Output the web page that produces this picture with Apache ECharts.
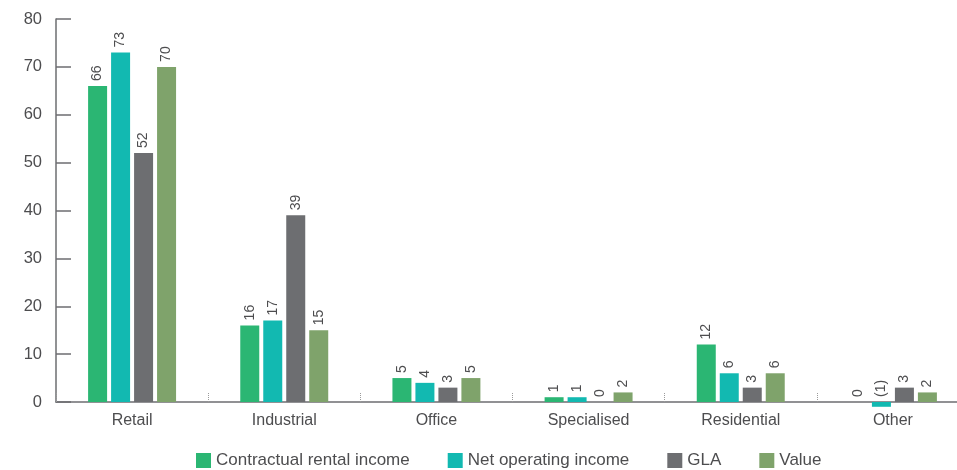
<!DOCTYPE html>
<html>
<head>
<meta charset="utf-8">
<script src="https://cdn.jsdelivr.net/npm/echarts@6/dist/echarts.min.js"></script>
<style>
  html, body { margin: 0; padding: 0; background: #fff; overflow: hidden; }
  /* canvas is a little wider than the window so the last category runs off the edge */
  #chart { width: 969px; height: 470px; }
</style>
</head>
<body>
<div id="chart"></div>
<script>
// Portfolio split by sector (%)
const categories = ['Retail', 'Industrial', 'Office', 'Specialised', 'Residential', 'Other'];
const contractualRentalIncome = [66, 16, 5, 1, 12, 0];
const netOperatingIncome = [73, 17, 4, 1, 6, -1];
const gla = [52, 39, 3, 0, 3, 3];
const value = [70, 15, 5, 2, 6, 2];
const yTicks = [0, 10, 20, 30, 40, 50, 60, 70, 80];

const FONT = '"Liberation Sans", Arial, sans-serif';
const TEXT = '#4d4d4f';

function labelFmt(p) {
  return p.value < 0 ? '(' + Math.abs(p.value) + ')' : String(p.value);
}

function makeSeries(name, data, color) {
  return {
    name: name,
    type: 'bar',
    data: data,
    barWidth: 19,
    barGap: '21%',
    clip: false,
    itemStyle: { color: color },
    label: {
      show: true,
      position: 'top',
      rotate: 90,
      align: 'left',
      verticalAlign: 'middle',
      distance: 5,
      fontFamily: FONT,
      fontSize: 14,
      color: TEXT,
      formatter: labelFmt
    }
  };
}

const chart = echarts.init(document.getElementById('chart'));
chart.setOption({
  animation: false,
  grid: { left: 56, right: 0, top: 19, bottom: 68, containLabel: false },
  legend: {
    left: 196,
    top: 452,
    padding: 0,
    icon: 'rect',
    itemWidth: 15,
    itemHeight: 15,
    itemGap: 38,
    textStyle: { fontFamily: FONT, fontSize: 17, color: TEXT },
    data: ['Contractual rental income', 'Net operating income', 'GLA', 'Value']
  },
  xAxis: {
    type: 'category',
    data: categories,
    axisLine: { lineStyle: { color: '#6d6e71', width: 1.5 } },
    axisTick: {
      show: true,
      inside: true,
      length: 9,
      interval: 0,
      lineStyle: { color: '#9a9a9a', type: 'dotted', width: 1 }
    },
    axisLabel: { fontFamily: FONT, fontSize: 16, color: TEXT, margin: 11 }
  },
  yAxis: {
    type: 'value',
    min: yTicks[0],
    max: yTicks[yTicks.length - 1],
    interval: 10,
    axisLine: { show: true, lineStyle: { color: '#6d6e71', width: 1.5 } },
    axisTick: { show: true, inside: true, length: 15, lineStyle: { color: '#6d6e71', width: 1.5 } },
    splitLine: { show: false },
    axisLabel: { fontFamily: FONT, fontSize: 16.5, color: TEXT, margin: 14 }
  },
  series: [
    makeSeries('Contractual rental income', contractualRentalIncome, '#2bb673'),
    makeSeries('Net operating income', netOperatingIncome, '#12b9b1'),
    makeSeries('GLA', gla, '#6d6e71'),
    makeSeries('Value', value, '#7fa36b')
  ]
});
</script>
</body>
</html>
